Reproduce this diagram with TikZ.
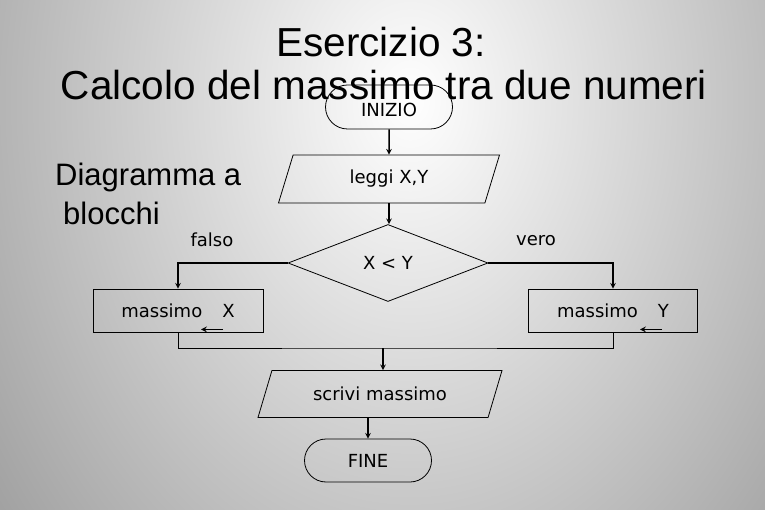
\documentclass[tikz,border=0pt]{standalone}
\usepackage{fontspec}
\setmainfont{Liberation Sans}
\newfontfamily\flowfont{DejaVu Sans}
\usetikzlibrary{shapes.geometric,shapes.misc}

\begin{document}
\begin{tikzpicture}[x=1pt,y=-1pt,>=stealth,
    every node/.style={font=\flowfont\fontsize{18}{21}\selectfont},
    heading/.style={font=\rmfamily\fontsize{40.5}{48}\selectfont,anchor=base,inner sep=0pt},
    subheading/.style={font=\rmfamily\fontsize{31}{36}\selectfont,anchor=base west,inner sep=0pt},
    terminal/.style={draw=black,line width=0.8pt,rounded rectangle,minimum width=127pt,minimum height=44pt,inner sep=0pt},
    iobox/.style={draw=black,line width=0.8pt,trapezium,trapezium stretches body,inner sep=0pt},
    process/.style={draw=black,line width=0.8pt,rectangle,minimum height=43pt,inner sep=0pt},
    decision/.style={draw=black,line width=0.8pt,diamond,minimum width=200pt,minimum height=77pt,inner sep=0pt},
    flow/.style={->,line width=1.5pt},
    link/.style={line width=0.8pt},
    assign/.style={->,line width=1.6pt}]
    % background
    \useasboundingbox (0,0) rectangle (765,510);
    \begin{scope}
      \clip (0,0) rectangle (765,510);
      \shade[inner color=white,outer color=black!42] (410,100) ellipse [x radius=590pt,y radius=780pt];
    \end{scope}

    \node[terminal,text height=19pt] (inizio) at (389,107) {INIZIO};
    \node[heading] (title1) at (381,57) {Esercizio 3:};
    \node[heading] (title2) at (384,100) {Calcolo del massimo tra due numeri};
    \node[subheading] (diag1) at (55,186) {Diagramma a};
    \node[subheading] (diag2) at (63,225) {blocchi};

    \node[iobox,trapezium left angle=50,trapezium right angle=130,minimum width=221pt,minimum height=48pt] (leggi) at (389,179) {leggi X,Y};
    \node[decision] (test) at (388,263) {X < Y};
    \node[process,minimum width=170pt] (boxX) at (178,310.5) {massimo\hspace{20pt}X};
    \node[process,minimum width=169pt] (boxY) at (613,310.5) {massimo\hspace{20pt}Y};
    \node (falso) at (212,240) {falso};
    \node (vero) at (536,241) {vero};
    \coordinate (merge) at (383,348);
    \node[iobox,trapezium left angle=45,trapezium right angle=135,minimum width=244pt,minimum height=47pt] (scrivi) at (380,394) {scrivi massimo};
    \node[terminal,minimum height=43pt] (fine) at (368,460.5) {FINE};

    \draw[flow] (inizio.south) -- (leggi.north);
    \draw[flow] (leggi.south) -- (leggi.south |- test.north);
    \draw[flow] (test.west) -| (boxX.north);
    \draw[flow] (test.east) -| (boxY.north);
    \draw[assign] ([shift={(45,-3)}]boxX.south) -- ([shift={(23,-3)}]boxX.south);
    \draw[assign] ([shift={(49,-3)}]boxY.south) -- ([shift={(27,-3)}]boxY.south);
    \draw[link] (boxX.south) |- (merge) -| (boxY.south);
    \draw[flow] (merge) -- (merge |- scrivi.north);
    \draw[flow] (scrivi.south -| fine.north) -- (fine.north);
\end{tikzpicture}
\end{document}
